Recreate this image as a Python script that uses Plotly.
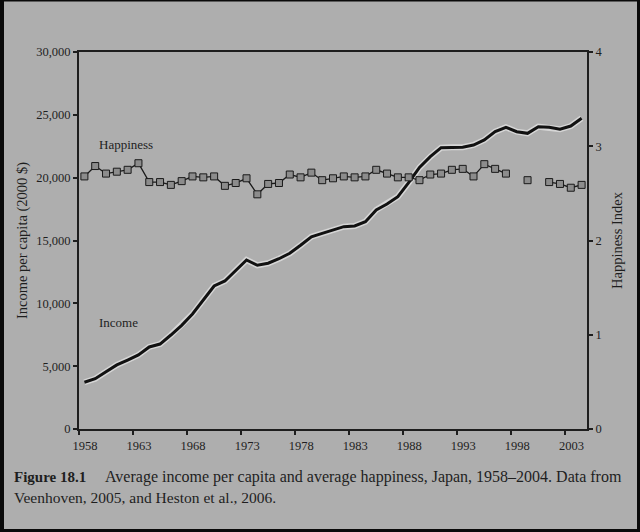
import plotly.graph_objects as go

years = list(range(1958, 2005))
income = [3720, 4000, 4560, 5100, 5490, 5890, 6530, 6760, 7480, 8250,
          9150, 10270, 11380, 11780, 12650, 13450, 13030, 13190, 13550, 13980,
          14620, 15300, 15570, 15850, 16100, 16160, 16500, 17430, 17900, 18490,
          19600, 20820, 21670, 22390, 22420, 22420, 22600, 23000, 23660, 24010,
          23660, 23530, 24060, 24010, 23850, 24110, 24730]
happiness = [2.68, 2.79, 2.71, 2.73, 2.75, 2.82, 2.62, 2.62, 2.59, 2.63,
             2.68, 2.67, 2.68, 2.58, 2.61, 2.66, 2.49, 2.60, 2.61, 2.70,
             2.67, 2.72, 2.64, 2.66, 2.68, 2.67, 2.68, 2.75, 2.71, 2.67,
             2.67, 2.64, 2.70, 2.71, 2.75, 2.76, 2.68, 2.81, 2.76, 2.71,
             None, 2.64, None, 2.62, 2.60, 2.56, 2.59]
tick_positions = [1957.5, 1962.5, 1967.5, 1972.5, 1977.5, 1982.5, 1987.5, 1992.5, 1997.5, 2002.5]
tick_labels = ["1958", "1963", "1968", "1973", "1978", "1983", "1988", "1993", "1998", "2003"]

SERIF = "Liberation Serif, DejaVu Serif, serif"
INK = "#1e1e1e"

# pixel layout
L, R, T, B = 79, 587, 52, 429
W, H = 640, 532
pw, ph = R - L, B - T

def px(x):
    return (x - L) / pw

def py(y):
    return (B - y) / ph

fig = go.Figure()

# income line with a light halo
fig.add_trace(go.Scatter(x=years, y=income, mode="lines",
                         line=dict(color="#d6d6d6", width=6), hoverinfo="skip",
                         showlegend=False))
fig.add_trace(go.Scatter(x=years, y=income, mode="lines", name="Income",
                         line=dict(color="#111111", width=3), showlegend=False))
# happiness
fig.add_trace(go.Scatter(x=years, y=happiness, yaxis="y2", mode="lines+markers",
                         name="Happiness", connectgaps=False,
                         line=dict(color="#1a1a1a", width=1.3),
                         marker=dict(symbol="square", size=7, color="#8c8c8c",
                                     line=dict(color="#1a1a1a", width=1)),
                         showlegend=False))

fig.update_layout(
    width=W, height=H,
    margin=dict(l=L, r=W - R, t=T, b=H - B, pad=0),
    paper_bgcolor="#0a0a0a",
    plot_bgcolor="rgba(0,0,0,0)",
    font=dict(family=SERIF, color=INK, size=12),
    xaxis=dict(range=[1957.5, 2004.5], tickvals=tick_positions, ticktext=tick_labels,
               ticklabelshift=6, ticks="outside", ticklen=4, tickwidth=1.5,
               tickcolor=INK, showline=True, linecolor=INK, linewidth=2,
               mirror=True, showgrid=False, zeroline=False,
               tickfont=dict(size=12.5, color=INK)),
    yaxis=dict(range=[0, 30000], dtick=5000, tickformat=",", ticks="outside",
               ticklen=4, tickwidth=1.5, tickcolor=INK, showline=True,
               linecolor=INK, linewidth=2, showgrid=False, zeroline=False,
               title=dict(text="Income per capita (2000 $)", standoff=5,
                          font=dict(size=14.5, color=INK)),
               tickfont=dict(size=12.5, color=INK)),
    yaxis2=dict(range=[0, 4], dtick=1, overlaying="y", side="right",
                ticks="outside", ticklen=4, tickwidth=1.5, tickcolor=INK,
                showline=True, linecolor=INK, linewidth=2, showgrid=False,
                zeroline=False,
                title=dict(text="Happiness Index", standoff=10,
                           font=dict(size=14.5, color=INK)),
                tickfont=dict(size=12.5, color=INK)),
    shapes=[dict(type="rect", xref="paper", yref="paper", layer="below",
                 x0=px(4), x1=px(637), y0=py(529), y1=py(1.5),
                 fillcolor="#aeaeae", line=dict(width=0))],
    annotations=[
        dict(text="Happiness", x=1959.2, y=22600, xref="x", yref="y",
             xanchor="left", yanchor="middle", showarrow=False,
             font=dict(size=13, color=INK)),
        dict(text="Income", x=1959.2, y=8450, xref="x", yref="y",
             xanchor="left", yanchor="middle", showarrow=False,
             font=dict(size=13, color=INK)),
        dict(text="<b>Figure 18.1</b>", x=px(12), y=py(477), xref="paper", yref="paper",
             xanchor="left", yanchor="middle", showarrow=False,
             font=dict(size=15, color=INK)),
        dict(text="Average income per capita and average happiness, Japan, 1958–2004. Data from",
             x=px(103), y=py(477), xref="paper", yref="paper",
             xanchor="left", yanchor="middle", showarrow=False,
             font=dict(size=16, color=INK)),
        dict(text="Veenhoven, 2005, and Heston et al., 2006.",
             x=px(12), y=py(497), xref="paper", yref="paper",
             xanchor="left", yanchor="middle", showarrow=False,
             font=dict(size=15.5, color=INK)),
    ],
)

fig.write_html("out.html", config={"displayModeBar": False},
               post_script="document.body.style.margin='0';document.body.style.padding='0';")
